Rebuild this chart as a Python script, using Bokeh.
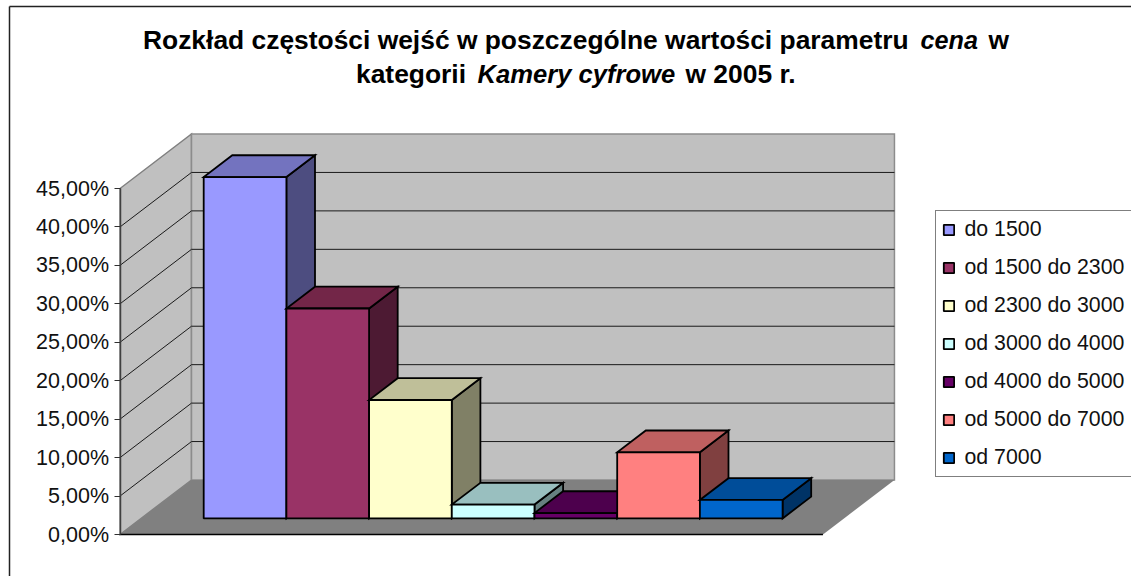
from bokeh.plotting import figure
from bokeh.models import Range1d, FixedTicker, Legend, LegendItem, Label
from bokeh.embed import file_html
from bokeh.resources import INLINE

# ---- data ----
categories = ["do 1500", "od 1500 do 2300", "od 2300 do 3000", "od 3000 do 4000",
              "od 4000 do 5000", "od 5000 do 7000", "od 7000"]
values = [44.4, 27.3, 15.4, 1.8, 0.7, 8.6, 2.4]
ticks = [0, 5, 10, 15, 20, 25, 30, 35, 40, 45]
tick_labels = {t: f"{t},00%" for t in ticks}
front_colors = ["#9999FF", "#993366", "#FFFFCC", "#CCFFFF", "#660066", "#FF8080", "#0066CC"]
top_colors = ["#7373BF", "#732648", "#BFBF99", "#99BFBF", "#4D004D", "#BF6060", "#004D99"]
side_colors = ["#4D4D80", "#4D1A33", "#808066", "#668080", "#330033", "#804040", "#003366"]

# ---- layout (pixels within the chart) ----
W, H = 1131, 576
AXIS_X, ZERO_Y, TOP_Y = 119.5, 534.0, 188.0
PX_PER_PCT = (ZERO_Y - TOP_Y) / 45
PX_PER_SLOT = 82.7
DEPTH_DX, DEPTH_DY = 71.5, 54.5
GAP = 0.757
N_SLOTS = len(values) + 1.5
Z0, Z1 = 0.295, 0.695
VMAX = ticks[-1]

def px(x):
    return (x - AXIS_X) / PX_PER_SLOT

def py(y):
    return (ZERO_Y - y) / PX_PER_PCT

def proj(x, v, z):
    return x + z * DEPTH_DX / PX_PER_SLOT, v + z * DEPTH_DY / PX_PER_PCT

p = figure(width=W, height=H, output_backend="svg", toolbar_location=None,
           x_range=Range1d(px(0), px(W)), y_range=Range1d(py(H), py(0)),
           min_border_left=0, min_border_right=0, min_border_top=0, min_border_bottom=0,
           background_fill_color="white", border_fill_color="white", outline_line_color=None)
p.xaxis.visible = False
p.grid.visible = False

# y axis, placed at the chart's front corner
ax = p.yaxis[0]
ax.fixed_location = 0
ax.ticker = FixedTicker(ticks=ticks)
ax.major_label_overrides = tick_labels
ax.bounds = (0, VMAX)
ax.axis_line_color = "#404040"
ax.axis_line_width = 1.5
ax.major_tick_line_color = "#303030"
ax.major_tick_line_width = 1
ax.major_tick_out = 6
ax.major_tick_in = 0
ax.minor_tick_out = 0
ax.minor_tick_in = 0
ax.major_label_standoff = 5
ax.major_label_text_font = "Liberation Sans"
ax.major_label_text_font_size = "21.5px"
ax.major_label_text_color = "#111111"

def poly(pts, fill, line=None, lw=1.5):
    xs, ys = zip(*pts)
    return p.patch(list(xs), list(ys), fill_color=fill, line_color=line, line_width=lw,
                   line_join="miter")

# chart border
p.multi_line([[px(9), px(9)], [px(9), px(W)]], [[py(H), py(6)], [py(6), py(6)]],
             line_color="#222222", line_width=1.5)

# walls and floor
poly([proj(0, 0, 0), proj(0, 0, 1), proj(0, VMAX, 1), proj(0, VMAX, 0)], "#C0C0C0", "#808080")
poly([proj(0, 0, 1), proj(N_SLOTS, 0, 1), proj(N_SLOTS, VMAX, 1), proj(0, VMAX, 1)], "#C0C0C0", "#8C8C8C")
poly([proj(0, 0, 0), proj(N_SLOTS, 0, 0), proj(N_SLOTS, 0, 1), proj(0, 0, 1)], "#808080", None)

# gridlines
gx, gy = [], []
for t in ticks[1:-1]:
    pts = [proj(0, t, 0), proj(0, t, 1), proj(N_SLOTS, t, 1)]
    gx.append([a for a, _ in pts])
    gy.append([b for _, b in pts])
p.multi_line(gx, gy, line_color="#1A1A1A", line_width=1)
p.line([0, N_SLOTS], [0, 0], line_color="black", line_width=1.5)

# bars, left to right
items = []
for i, (name, v) in enumerate(zip(categories, values)):
    l, r = GAP + i, GAP + i + 1
    x0, b0 = proj(l, 0, Z0)
    x1, _ = proj(r, 0, Z0)
    top0 = b0 + v
    poly([proj(r, 0, Z0), proj(r, 0, Z1), proj(r, v, Z1), proj(r, v, Z0)], side_colors[i], "black", 1.8)
    poly([proj(l, v, Z0), proj(r, v, Z0), proj(r, v, Z1), proj(l, v, Z1)], top_colors[i], "black", 1.8)
    q = p.quad(left=[x0], right=[x1], bottom=[b0], top=[top0], fill_color=front_colors[i],
               line_color="black", line_width=1.8)
    items.append(LegendItem(label=name, renderers=[q]))

# legend
legend = Legend(items=items, location=(934.5, H - 476.5), orientation="vertical",
                margin=0, padding=6, spacing=13, glyph_width=13, glyph_height=13,
                label_standoff=10, label_height=25, label_width=161,
                label_text_font="Liberation Sans", label_text_font_size="21.3px",
                label_text_color="#111111", border_line_color="black", border_line_width=1.2,
                background_fill_color="white", background_fill_alpha=1)
p.add_layout(legend, "center")

# title
def title(text, x, y, style="bold", size="26.4px"):
    p.add_layout(Label(x=px(x), y=py(y), text=text, text_font="Liberation Sans", text_font_size=size,
                       text_font_style=style, text_color="black", text_baseline="alphabetic"))

title("Rozkład częstości wejść w poszczególne wartości parametru", 142.5, 39)
title("cena", 920, 39, "bold italic", "25.2px")
title("w", 988, 39)
title("kategorii", 355.5, 73)
title("Kamery cyfrowe", 477, 73, "bold italic", "25.6px")
title("w 2005 r.", 685, 73)

open("out.html", "w").write(file_html(p, INLINE))
